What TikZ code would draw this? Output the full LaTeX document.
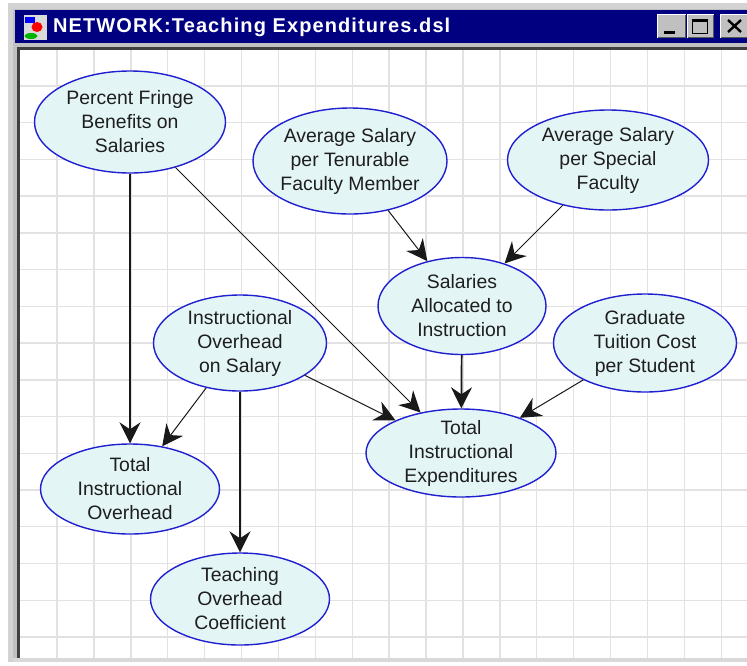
\documentclass[tikz,border=0pt]{standalone}
\usepackage{fontspec}
\setmainfont{Liberation Sans}
\newfontfamily\titlefont[LetterSpace=5.5]{Liberation Sans}
\usetikzlibrary{arrows.meta,shapes.geometric}
\definecolor{gridc}{RGB}{226,226,226}
\definecolor{winc}{RGB}{192,192,192}
\definecolor{barc}{RGB}{0,0,128}
\definecolor{fillc}{RGB}{228,245,245}
\definecolor{edgec}{RGB}{32,32,208}
\definecolor{textc}{RGB}{30,30,30}
\tikzset{
  x=1pt,y=-1pt,
  bn/.style={ellipse,draw=edgec,fill=fillc,line width=1.4pt,inner xsep=-10pt,inner ysep=-10pt,align=center,text=textc,font=\fontsize{19.4}{24}\selectfont},
  link/.style={-{Stealth[length=21pt,width=21pt,inset=7pt]},line width=1pt,color=black!90},
  thicklink/.style={link,line width=1.7pt},
  winbtn/.style={draw=none,fill=winc,inner sep=0pt},
}
\begin{document}
\begin{tikzpicture}
\useasboundingbox (0,0) rectangle (747,665);
\fill[white] (0,0) rectangle (747,665);
% window frame
\fill[winc!70!white] (8,3) rectangle (747,662);
\fill[winc] (13,9) rectangle (747,658);
\fill[barc] (15,10) rectangle (747,43);
\fill[white] (19,50) rectangle (747,658);
% grid
\foreach \i in {0,...,18} \draw[gridc,line width=1.4pt] ({57+36.9*\i},50) -- ({57+36.9*\i},658);
\foreach \j in {0,...,15} \draw[gridc,line width=1.4pt] (19,{86+36.73*\j}) -- (747,{86+36.73*\j});
% sunken edge
\fill[black!75] (17,47) rectangle (747,50);
\fill[black!75] (17,47) rectangle (20,658);
\fill[winc!60!white] (13,658) rectangle (747,662);
% title icon
\fill[white!85!black] (24,15) rectangle (47,40);
\fill[blue] (25,17) rectangle (35,23);
\fill[red] (37,27) ellipse (5.5 and 5);
\fill[green!70!black] (31,36) ellipse (6.5 and 3);
\node[anchor=west,text=white,inner sep=0pt,font=\titlefont\bfseries\fontsize{20}{22}\selectfont] (title) at (53,27) {NETWORK:Teaching Expenditures.dsl};
% window buttons
\fill[white] (657,14) rectangle (686,38);
\fill[black!65] (658,15) rectangle (686,38);
\node[winbtn,minimum width=27pt,minimum height=22pt,anchor=north west] (bmin) at (658,15) {};
\fill[white] (687,14) rectangle (714,38);
\fill[black!65] (688,15) rectangle (714,38);
\node[winbtn,minimum width=25pt,minimum height=22pt,anchor=north west] (bmax) at (688,15) {};
\fill[white] (720,14) rectangle (747,38);
\fill[black!65] (721,15) rectangle (747,38);
\node[winbtn,minimum width=26pt,minimum height=22pt,anchor=north west] (bclose) at (721,15) {};
\fill[black] (664,31) rectangle (675,34);
\draw[black,line width=1pt] (692.5,19) rectangle (707.5,33);
\fill[black] (692.5,19) rectangle (707.5,22);
\draw[black,line width=2.4pt] (728,20) -- (741,32) (741,20) -- (728,32);
% nodes
\node[bn,minimum width=191pt,minimum height=102pt] (pf) at (130,122) {Percent Fringe\\Benefits on\\Salaries};
\node[bn,minimum width=194pt,minimum height=106pt] (at) at (350,161) {Average Salary\\per Tenurable\\Faculty Member};
\node[bn,minimum width=201pt,minimum height=100pt] (as) at (608,160) {Average Salary\\per Special\\Faculty};
\node[bn,minimum width=168pt,minimum height=97pt] (sa) at (462,306) {Salaries\\Allocated to\\Instruction};
\node[bn,minimum width=183pt,minimum height=98pt] (gt) at (645,343) {Graduate\\Tuition Cost\\per Student};
\node[bn,minimum width=173pt,minimum height=96pt] (io) at (240,343) {Instructional\\Overhead\\on Salary};
\node[bn,minimum width=190pt,minimum height=88pt] (te) at (461,453) {Total\\Instructional\\Expenditures};
\node[bn,minimum width=179pt,minimum height=90pt] (to) at (130,489) {Total\\Instructional\\Overhead};
\node[bn,minimum width=179pt,minimum height=92pt] (tc) at (240,599) {Teaching\\Overhead\\Coefficient};
% links
\draw[thicklink] (pf) -- (to);
\draw[link] (pf) -- (te);
\draw[link] (at) -- (sa);
\draw[link] (as) -- (sa);
\draw[thicklink] (sa) -- (te);
\draw[link] (gt) -- (te);
\draw[link] (io) -- (te);
\draw[link] (io) -- (to);
\draw[thicklink] (io) -- (tc);
\end{tikzpicture}
\end{document}
